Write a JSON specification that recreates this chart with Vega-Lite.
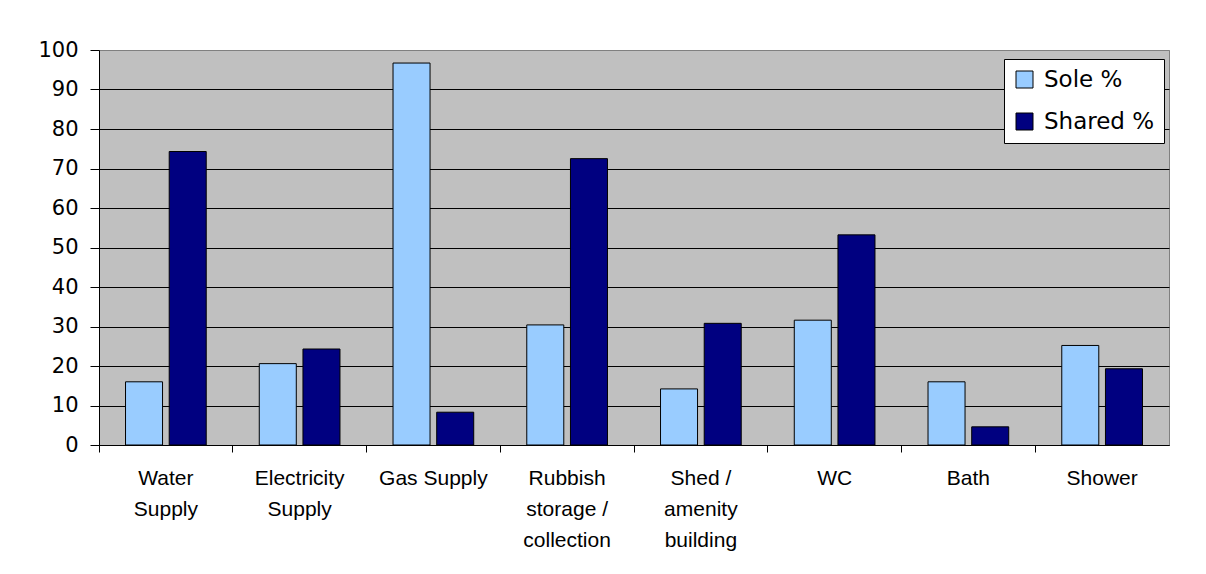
{
  "$schema": "https://vega.github.io/schema/vega-lite/v6.json",
  "width": 1070,
  "height": 395,
  "autosize": {"type": "none"},
  "padding": {"left": 99, "top": 50, "right": 37, "bottom": 129},
  "background": "white",
  "data": {
    "values": [
      {"category": "Water|Supply", "series": "Sole %", "value": 16.0},
      {"category": "Water|Supply", "series": "Shared %", "value": 74.3},
      {"category": "Electricity|Supply", "series": "Sole %", "value": 20.6},
      {"category": "Electricity|Supply", "series": "Shared %", "value": 24.3},
      {"category": "Gas Supply", "series": "Sole %", "value": 96.7},
      {"category": "Gas Supply", "series": "Shared %", "value": 8.3},
      {"category": "Rubbish|storage /|collection", "series": "Sole %", "value": 30.4},
      {"category": "Rubbish|storage /|collection", "series": "Shared %", "value": 72.5},
      {"category": "Shed /|amenity|building", "series": "Sole %", "value": 14.2},
      {"category": "Shed /|amenity|building", "series": "Shared %", "value": 30.8},
      {"category": "WC", "series": "Sole %", "value": 31.6},
      {"category": "WC", "series": "Shared %", "value": 53.2},
      {"category": "Bath", "series": "Sole %", "value": 16.0},
      {"category": "Bath", "series": "Shared %", "value": 4.6},
      {"category": "Shower", "series": "Sole %", "value": 25.2},
      {"category": "Shower", "series": "Shared %", "value": 19.3}
    ]
  },
  "mark": {"type": "bar", "stroke": "black", "strokeWidth": 1},
  "encoding": {
    "x": {
      "field": "category",
      "type": "nominal",
      "sort": null,
      "scale": {"paddingInner": 0, "paddingOuter": 0},
      "axis": {
        "title": null,
        "labelAngle": 0,
        "bandPosition": 0,
        "labelExpr": "split(datum.label, '|')",
        "labelLineHeight": 31,
        "labelFont": "Liberation Sans",
        "labelFontSize": 21,
        "labelPadding": 15,
        "tickSize": 7,
        "tickColor": "black",
        "domainColor": "black",
        "labelColor": "black",
        "grid": false
      }
    },
    "xOffset": {
      "field": "series",
      "type": "nominal",
      "sort": ["Sole %", "Shared %"],
      "scale": {"paddingInner": 0.153, "paddingOuter": 0.607}
    },
    "y": {
      "field": "value",
      "type": "quantitative",
      "scale": {"domain": [0, 100], "nice": false},
      "axis": {
        "title": null,
        "values": [0, 10, 20, 30, 40, 50, 60, 70, 80, 90, 100],
        "labelFont": "DejaVu Sans",
        "labelFontSize": 21,
        "labelPadding": 12,
        "tickSize": 9,
        "tickColor": "black",
        "domainColor": "black",
        "labelColor": "black",
        "grid": true,
        "gridColor": {"condition": {"test": "datum.value == 100", "value": "#808080"}, "value": "black"},
        "gridOpacity": 1,
        "gridWidth": 1
      }
    },
    "color": {
      "field": "series",
      "type": "nominal",
      "sort": ["Sole %", "Shared %"],
      "scale": {"domain": ["Sole %", "Shared %"], "range": ["#99CCFF", "#000080"]},
      "legend": {
        "title": null,
        "orient": "none",
        "legendX": 905,
        "legendY": 9,
        "fillColor": "white",
        "strokeColor": "black",
        "padding": 9,
        "symbolType": "square",
        "symbolSize": 289,
        "symbolStrokeColor": "black",
        "symbolStrokeWidth": 1,
        "labelFont": "DejaVu Sans",
        "labelFontSize": 23,
        "labelColor": "black",
        "labelOffset": 8,
        "rowPadding": 18
      }
    }
  },
  "config": {
    "font": "Liberation Sans",
    "view": {"fill": "#C0C0C0", "stroke": "#808080", "strokeWidth": 1}
  }
}
